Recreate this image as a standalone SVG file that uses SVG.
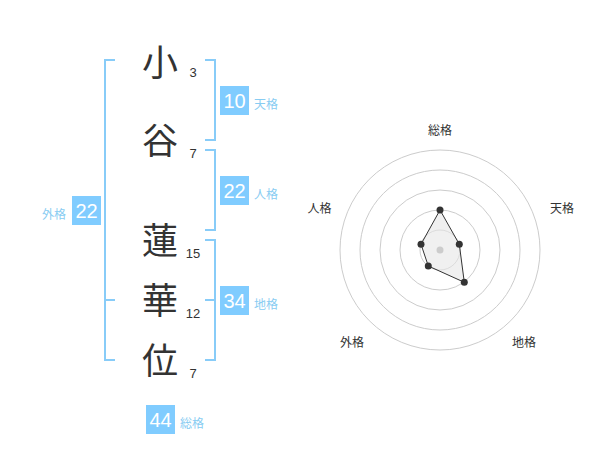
<svg xmlns="http://www.w3.org/2000/svg" width="600" height="470" viewBox="0 0 600 470">
<style>
.kanji{font-family:"Noto Sans CJK JP","Noto Sans CJK SC",sans-serif;font-size:36px;fill:#333;text-anchor:middle}
.num{font-family:"Liberation Sans","DejaVu Sans",sans-serif;font-size:13px;fill:#333;text-anchor:middle}
.box{fill:#80ccff}
.boxt{font-family:"Liberation Sans","DejaVu Sans",sans-serif;font-size:20px;fill:#fff;text-anchor:middle}
.lbl{font-family:"Noto Sans CJK JP","Noto Sans CJK SC",sans-serif;font-size:12px;fill:#88ccf2}
.br{fill:none;stroke:#88ccf8;stroke-width:2}
.ring{fill:none;stroke:#cccccc;stroke-width:1}
.rl{font-family:"Noto Sans CJK JP","Noto Sans CJK SC",sans-serif;font-size:12px;fill:#333;text-anchor:middle}
.pt{fill:#333}
</style>
<rect width="600" height="470" fill="#fff"/>
<g id="connectors">
<path class="br" d="M115,60 H105 V360 H115 M105,300 H115"/>
<path class="br" d="M205,60 H215 V140 H205"/>
<path class="br" d="M205,150 H215 V230 H205"/>
<path class="br" d="M205,240 H215 V360 H205 M205,300 H215"/>
</g>
<g id="char1"><text class="kanji" x="160" y="76">小</text><text class="num" x="193" y="77">3</text></g>
<g id="char2"><text class="kanji" x="160" y="154">谷</text><text class="num" x="193" y="158">7</text></g>
<g id="char3"><text class="kanji" x="160" y="254">蓮</text><text class="num" x="193" y="258">15</text></g>
<g id="char4"><text class="kanji" x="160" y="314">華</text><text class="num" x="193" y="318">12</text></g>
<g id="char5"><text class="kanji" x="160" y="374">位</text><text class="num" x="193" y="378">7</text></g>
<g id="tenkaku"><rect class="box" x="220" y="86" width="29" height="29"/><text class="boxt" x="234.5" y="108">10</text><text class="lbl" x="254" y="109">天格</text></g>
<g id="jinkaku"><rect class="box" x="220" y="176" width="29" height="29"/><text class="boxt" x="234.5" y="198">22</text><text class="lbl" x="254" y="199">人格</text></g>
<g id="chikaku"><rect class="box" x="220" y="286" width="29" height="29"/><text class="boxt" x="234.5" y="308">34</text><text class="lbl" x="254" y="309">地格</text></g>
<g id="gaikaku"><rect class="box" x="72" y="196" width="29" height="29"/><text class="boxt" x="86.5" y="218">22</text><text class="lbl" x="66" y="219" text-anchor="end">外格</text></g>
<g id="soukaku"><rect class="box" x="146" y="405" width="29" height="29"/><text class="boxt" x="160.5" y="427">44</text><text class="lbl" x="180" y="428">総格</text></g>
<g id="radar">
<circle class="ring" cx="440" cy="250" r="20"/>
<circle class="ring" cx="440" cy="250" r="40"/>
<circle class="ring" cx="440" cy="250" r="60"/>
<circle class="ring" cx="440" cy="250" r="80"/>
<circle class="ring" cx="440" cy="250" r="100"/>
<polygon points="440,210 459.3,244.3 464.3,282.3 428.3,266 421,244.3" fill="#e6e6e6" fill-opacity="0.6" stroke="#333" stroke-width="1"/>
<circle cx="440" cy="250" r="3.5" fill="#cccccc"/>
<circle class="pt" cx="440" cy="210" r="3.5"/>
<circle class="pt" cx="459.3" cy="244.3" r="3.5"/>
<circle class="pt" cx="464.3" cy="282.3" r="3.5"/>
<circle class="pt" cx="428.3" cy="266" r="3.5"/>
<circle class="pt" cx="421" cy="244.3" r="3.5"/>
<text class="rl" x="440" y="135">総格</text>
<text class="rl" x="562" y="213">天格</text>
<text class="rl" x="524" y="347">地格</text>
<text class="rl" x="352" y="347">外格</text>
<text class="rl" x="319.5" y="213">人格</text>
</g>
</svg>
